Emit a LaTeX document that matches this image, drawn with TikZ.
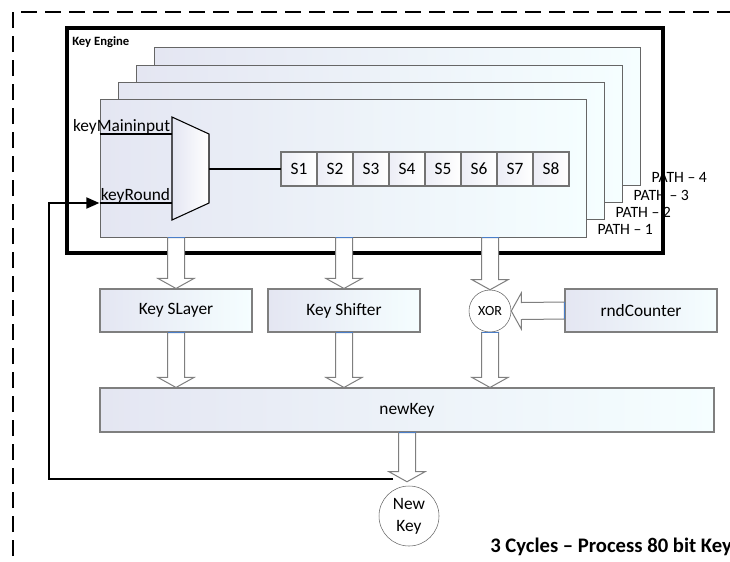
\documentclass[tikz,border=0pt]{standalone}
\usepackage{fontspec}
\setmainfont{Carlito}
\usetikzlibrary{positioning,calc,arrows.meta}

\definecolor{boxlav}{HTML}{E4E6F2}
\definecolor{boxcyan}{HTML}{F5FEFF}
\definecolor{edgegray}{HTML}{7F7F7F}
\definecolor{portblue}{HTML}{4A7EC8}

\tikzset{
  pathpanel/.style={draw=black!60, line width=0.8pt, left color=boxlav, right color=boxcyan,
    minimum width=365pt, minimum height=103pt, inner sep=0pt},
  sbox/.style={draw=black!55, line width=0.8pt, left color=boxlav!70!white, right color=white,
    minimum width=27pt, minimum height=25.5pt, inner sep=0pt, outer sep=0pt},
  unitbox/.style={draw=edgegray, line width=0.8pt, left color=boxlav, right color=boxcyan,
    minimum width=114pt, minimum height=32.25pt},
  keybar/.style={unitbox, minimum width=460.5pt, minimum height=33pt},
  xorgate/.style={circle, draw=black!60, fill=white, minimum size=31.5pt, inner sep=0pt,
    font=\fontsize{10.5}{12}\selectfont},
  keycircle/.style={circle, draw=black!60, fill=white, minimum size=45pt, inner sep=0pt,
    align=center, font=\fontsize{13}{16.5}\selectfont},
  fatarrow/.style={draw=edgegray, fill=white, line width=0.75pt, line join=miter},
  wire/.style={line width=0.8pt},
  feedback/.style={line width=2.2pt, -{Triangle[length=10pt,width=8pt]}},
  pathlbl/.style={font=\fontsize{11.8}{13}\selectfont, inner sep=0pt},
}

% hollow block arrows: start point, tip point
\newcommand{\fatdown}[2]{%
  \draw[fatarrow] ($(#1)+(-8.5,0)$) -- ($(#1)+(8.5,0)$) -- ($(#2)+(8.5,-10)$) -- ($(#2)+(18,-10)$)
    -- (#2) -- ($(#2)+(-18,-10)$) -- ($(#2)+(-8.5,-10)$) -- cycle;
  \draw[portblue, line width=0.8pt] ($(#1)+(-8.5,0)$) -- ($(#1)+(8.5,0)$);}
\newcommand{\fatleft}[2]{%
  \draw[fatarrow] ($(#1)+(0,-8.5)$) -- ($(#1)+(0,8.5)$) -- ($(#2)+(10,8.5)$) -- ($(#2)+(10,18)$)
    -- (#2) -- ($(#2)+(10,-18)$) -- ($(#2)+(10,-8.5)$) -- cycle;
  \draw[portblue, line width=0.8pt] ($(#1)+(0,-8.5)$) -- ($(#1)+(0,8.5)$);}

\begin{document}
\begin{tikzpicture}[x=0.75pt, y=-0.75pt, font=\fontsize{13}{15}\selectfont]
  \useasboundingbox (0,0) rectangle (730,561);
  \clip (0,0) rectangle (730,561);

  % outer dashed frame, runs off the page
  \draw[line width=1.5pt, dash pattern=on 12pt off 6pt] (13,580) -- (13,12) -- (750,12);

  \node[draw, line width=2.6pt, minimum width=447pt, minimum height=168.75pt] (engine) at (365,140.5) {};
  \node[anchor=west, inner sep=0pt, font=\bfseries\fontsize{9.5}{11}\selectfont] (enginelbl) at (72,42) {Key Engine};

  % four paths, back to front
  \foreach \k in {4,3,2,1}
    \node[pathpanel] (panel\k) at ({343.5+18*(\k-1)},{168.5-17.3*(\k-1)}) {};
  \foreach \k in {1,...,4}
    \node[pathlbl, anchor=west] (pathlbl\k) at ($(panel\k.south east)+(10,-8)$) {PATH – \k};

  % mux
  \coordinate (muxin1) at (172,134);
  \coordinate (muxin2) at (172,203);
  \coordinate (muxout) at (209,169);
  \draw[wire, left color=boxlav, right color=white] (172,117) -- (209,134) -- (209,203) -- (172,220) -- cycle;
  \draw[wire] (panel1.west |- muxin1) -- (muxin1);
  \draw[wire] (panel1.west |- muxin2) -- (muxin2);
  \node[anchor=base east, inner sep=0.5pt] (mainlbl) at (171,131) {keyMaininput};
  \node[anchor=base east, inner sep=0.5pt] (roundlbl) at (171,200) {keyRound};

  % sboxes
  \node[sbox, anchor=west] (s1) at (281,169) {S1};
  \foreach \i [remember=\i as \prev (initially 1)] in {2,...,8}
    \node[sbox, right=0pt of s\prev] (s\i) {S\i};
  \draw[wire] (muxout) -- (s1.west);

  \node[unitbox] (slayer) at (176,310.5) {Key SLayer};
  \node[unitbox] (shifter) at (344,310.5) {Key Shifter};
  \node[xorgate] (xor) at (490,311) {XOR};
  \node[unitbox] (counter) at (641,310.5) {rndCounter};
  \node[keybar] (newkey) at (407,410) {newKey};
  \node[keycircle] (keyout) at (409,516) {New\\Key};

  \fatdown{slayer.north |- panel1.south}{slayer.north}
  \fatdown{shifter.north |- panel1.south}{shifter.north}
  \fatdown{xor.north |- panel1.south}{xor.north}
  \fatleft{counter.west}{xor.east}
  \fatdown{slayer.south}{slayer.south |- newkey.north}
  \fatdown{shifter.south}{shifter.south |- newkey.north}
  \fatdown{xor.south}{xor.south |- newkey.north}
  \fatdown{newkey.south}{$(newkey.south |- keyout.north)+(0,-4)$}

  % round key back into the mux
  \coordinate (fbstart) at (393,479);
  \coordinate (fbcorner) at (49,203);
  \draw[feedback] (fbstart) -| (fbcorner) -- (panel1.west |- muxin2);

  \node[anchor=west, inner sep=0pt, font=\bfseries\fontsize{15.5}{17}\selectfont] (caption) at (490,547) {3 Cycles – Process 80 bit Key};
\end{tikzpicture}
\end{document}
